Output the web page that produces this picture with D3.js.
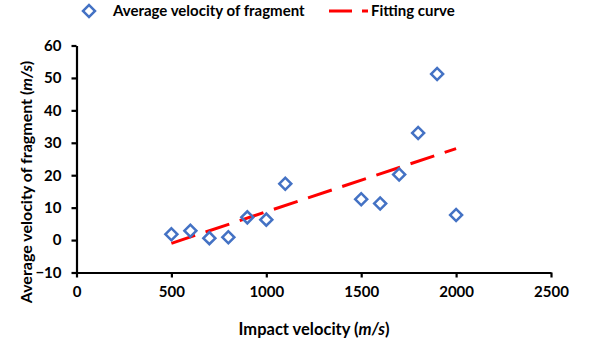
<!DOCTYPE html>
<html>
<head>
<meta charset="utf-8">
<script src="https://cdn.jsdelivr.net/npm/d3@7"></script>
<style>
  body { margin: 0; background: #fff; }
  svg text { font-family: Lato, "Open Sans", sans-serif; font-weight: bold; fill: #000; }
</style>
</head>
<body>
<svg id="chart" width="602" height="342"></svg>
<script>
// impact velocity (m/s) vs average fragment velocity (m/s)
const impactVelocity = [500, 600, 700, 800, 900, 1000, 1100, 1500, 1600, 1700, 1800, 1900, 2000];
const fragmentVelocity = [1.8, 2.9, 0.6, 0.9, 7.0, 6.3, 17.4, 12.6, 11.3, 20.2, 33.0, 51.2, 7.7];

// fitting line end points
const fitX = [500, 2000];
const fitY = [-1.0, 28.2];

const xTicks = [0, 500, 1000, 1500, 2000, 2500];
const yTicks = [-10, 0, 10, 20, 30, 40, 50, 60];

const svg = d3.select("#chart");
const margin = { top: 45.5, right: 51, bottom: 69.5, left: 76.5 };
const width = 602 - margin.left - margin.right;
const height = 342 - margin.top - margin.bottom;

const x = d3.scaleLinear().domain([0, 2500]).range([0, width]);
const y = d3.scaleLinear().domain([-10, 60]).range([height, 0]);

const g = svg.append("g")
  .attr("transform", `translate(${margin.left},${margin.top})`);

const xAxis = d3.axisBottom(x).tickValues(xTicks).tickFormat(d3.format("d"))
  .tickSize(5).tickPadding(9).tickSizeOuter(0);
const yAxis = d3.axisLeft(y).tickValues(yTicks).tickFormat(d3.format("d"))
  .tickSize(5).tickPadding(10).tickSizeOuter(0);

g.append("g")
  .attr("class", "x axis")
  .attr("transform", `translate(0,${height})`)
  .call(xAxis);

g.append("g")
  .attr("class", "y axis")
  .call(yAxis);

g.selectAll(".domain").attr("stroke", "#000").attr("stroke-width", 2.2);
g.selectAll(".tick line").attr("stroke", "#000").attr("stroke-width", 2.2);
g.selectAll(".tick text").attr("font-size", "15px").attr("font-family", null);

// fitting curve
const line = d3.line().x((d) => x(d[0])).y((d) => y(d[1]));
g.append("path")
  .datum(d3.zip(fitX, fitY))
  .attr("d", line)
  .attr("fill", "none")
  .attr("stroke", "#FF0000")
  .attr("stroke-width", 3)
  .attr("stroke-dasharray", "25,11");

// points
const diamond = d3.symbol().type(d3.symbolSquare).size(72);
g.selectAll(".pt")
  .data(d3.zip(impactVelocity, fragmentVelocity))
  .enter()
  .append("path")
  .attr("class", "pt")
  .attr("d", diamond)
  .attr("transform", (d) => `translate(${x(d[0])},${y(d[1])}) rotate(45)`)
  .attr("fill", "none")
  .attr("stroke", "#4472C4")
  .attr("stroke-width", 2.5);

// axis titles
const xTitle = svg.append("text")
  .attr("x", 314)
  .attr("y", 335)
  .attr("text-anchor", "middle")
  .attr("font-size", "16.5px");
xTitle.append("tspan").text("Impact velocity (");
xTitle.append("tspan").attr("font-style", "italic").text("m/s");
xTitle.append("tspan").text(")");

const yTitle = svg.append("text")
  .attr("transform", "translate(32,182) rotate(-90)")
  .attr("text-anchor", "middle")
  .attr("font-size", "16px");
yTitle.append("tspan").text("Average velocity of fragment (");
yTitle.append("tspan").attr("font-style", "italic").text("m/s");
yTitle.append("tspan").text(")");

// legend
const legend = svg.append("g");
legend.append("path")
  .attr("d", diamond)
  .attr("transform", "translate(89,11) rotate(45)")
  .attr("fill", "none")
  .attr("stroke", "#4472C4")
  .attr("stroke-width", 2.5);
legend.append("text")
  .attr("x", 113)
  .attr("y", 16)
  .attr("font-size", "15px")
  .text("Average velocity of fragment");
legend.append("line")
  .attr("x1", 329).attr("x2", 368)
  .attr("y1", 11).attr("y2", 11)
  .attr("stroke", "#FF0000")
  .attr("stroke-width", 3)
  .attr("stroke-dasharray", "23,10");
legend.append("text")
  .attr("x", 371)
  .attr("y", 16)
  .attr("font-size", "15px")
  .text("Fitting curve");
</script>
</body>
</html>
